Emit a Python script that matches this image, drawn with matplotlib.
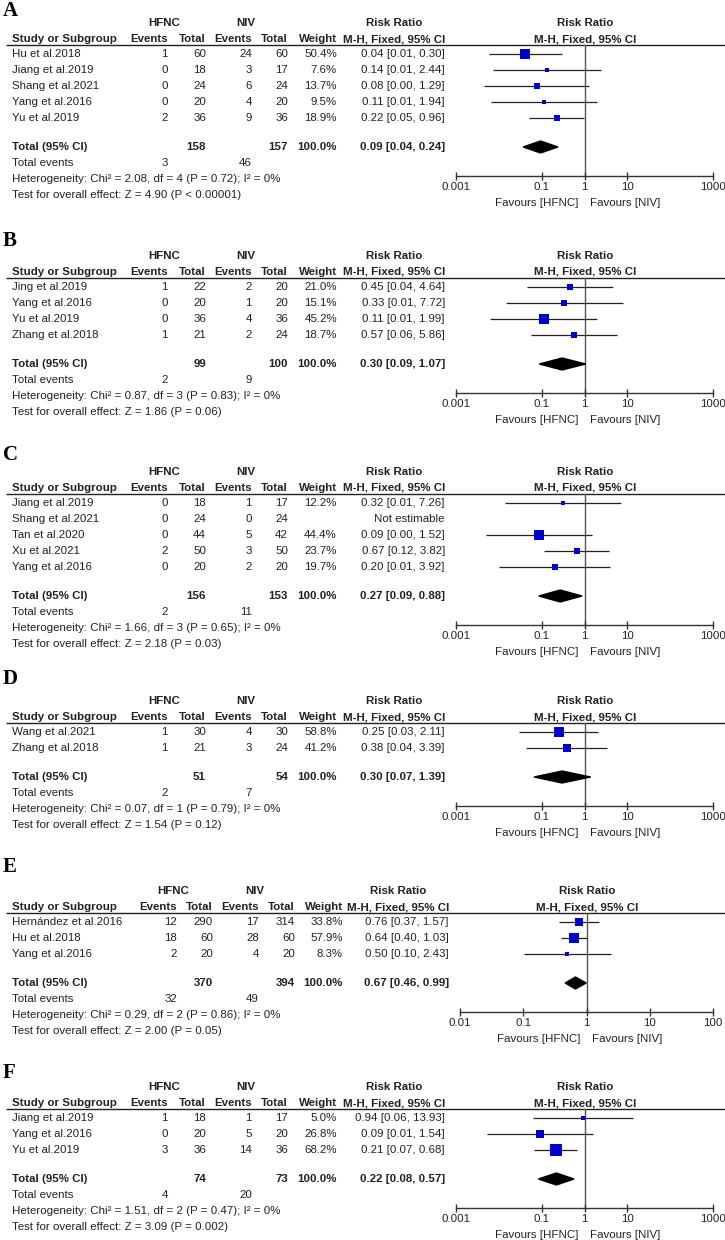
import matplotlib
matplotlib.use("Agg")
import matplotlib.pyplot as plt
import numpy as np

plt.rcParams['font.family'] = ['Liberation Sans', 'DejaVu Sans']

# ---------------- data ----------------
A_study = ["Hu et al.2018", "Jiang et al.2019", "Shang et al.2021", "Yang et al.2016", "Yu et al.2019"]
A_hfnc_ev = [1, 0, 0, 0, 2]
A_hfnc_n = [60, 18, 24, 20, 36]
A_niv_ev = [24, 3, 6, 4, 9]
A_niv_n = [60, 17, 24, 20, 36]
A_weight = [50.4, 7.6, 13.7, 9.5, 18.9]
A_rr = [0.0417, 0.1353, 0.0769, 0.1111, 0.2222]
A_lo = [0.0058, 0.0075, 0.0046, 0.0064, 0.0516]
A_hi = [0.298, 2.44, 1.294, 1.937, 0.958]
A_total = [158, 157, 3, 46, 0.094, 0.037, 0.24]
A_het = "Heterogeneity: Chi\u00b2 = 2.08, df = 4 (P = 0.72); I\u00b2 = 0%"
A_test = "Test for overall effect: Z = 4.90 (P < 0.00001)"

B_study = ["Jing et al.2019", "Yang et al.2016", "Yu et al.2019", "Zhang et al.2018"]
B_hfnc_ev = [1, 0, 0, 1]
B_hfnc_n = [22, 20, 36, 21]
B_niv_ev = [2, 1, 4, 2]
B_niv_n = [20, 20, 36, 24]
B_weight = [21.0, 15.1, 45.2, 18.7]
B_rr = [0.4545, 0.3333, 0.1111, 0.5714]
B_lo = [0.0445, 0.0144, 0.0062, 0.0557]
B_hi = [4.64, 7.72, 1.99, 5.86]
B_total = [99, 100, 2, 9, 0.30, 0.088, 1.07]
B_het = "Heterogeneity: Chi\u00b2 = 0.87, df = 3 (P = 0.83); I\u00b2 = 0%"
B_test = "Test for overall effect: Z = 1.86 (P = 0.06)"

C_study = ["Jiang et al.2019", "Shang et al.2021", "Tan et al.2020", "Xu et al.2021", "Yang et al.2016"]
C_hfnc_ev = [0, 0, 0, 2, 0]
C_hfnc_n = [18, 24, 44, 50, 20]
C_niv_ev = [1, 0, 5, 3, 2]
C_niv_n = [17, 24, 42, 50, 20]
C_weight = [12.2, None, 44.4, 23.7, 19.7]
C_rr = [0.3158, None, 0.0869, 0.6667, 0.2]
C_lo = [0.0137, None, 0.0049, 0.1163, 0.0102]
C_hi = [7.26, None, 1.524, 3.82, 3.92]
C_total = [156, 153, 2, 11, 0.27, 0.086, 0.88]
C_het = "Heterogeneity: Chi\u00b2 = 1.66, df = 3 (P = 0.65); I\u00b2 = 0%"
C_test = "Test for overall effect: Z = 2.18 (P = 0.03)"

D_study = ["Wang et al.2021", "Zhang et al.2018"]
D_hfnc_ev = [1, 1]
D_hfnc_n = [30, 21]
D_niv_ev = [4, 3]
D_niv_n = [30, 24]
D_weight = [58.8, 41.2]
D_rr = [0.25, 0.381]
D_lo = [0.0297, 0.0428]
D_hi = [2.11, 3.39]
D_total = [51, 54, 2, 7, 0.30, 0.066, 1.39]
D_het = "Heterogeneity: Chi\u00b2 = 0.07, df = 1 (P = 0.79); I\u00b2 = 0%"
D_test = "Test for overall effect: Z = 1.54 (P = 0.12)"

E_study = ["Hern\u00e1ndez et al.2016", "Hu et al.2018", "Yang et al.2016"]
E_hfnc_ev = [12, 18, 2]
E_hfnc_n = [290, 60, 20]
E_niv_ev = [17, 28, 4]
E_niv_n = [314, 60, 20]
E_weight = [33.8, 57.9, 8.3]
E_rr = [0.7643, 0.6429, 0.5]
E_lo = [0.3715, 0.401, 0.103]
E_hi = [1.5726, 1.0306, 2.43]
E_total = [370, 394, 32, 49, 0.67, 0.46, 0.99]
E_het = "Heterogeneity: Chi\u00b2 = 0.29, df = 2 (P = 0.86); I\u00b2 = 0%"
E_test = "Test for overall effect: Z = 2.00 (P = 0.05)"

F_study = ["Jiang et al.2019", "Yang et al.2016", "Yu et al.2019"]
F_hfnc_ev = [1, 0, 3]
F_hfnc_n = [18, 20, 36]
F_niv_ev = [1, 5, 14]
F_niv_n = [17, 20, 36]
F_weight = [5.0, 26.8, 68.2]
F_rr = [0.9444, 0.0909, 0.2143]
F_lo = [0.064, 0.00536, 0.0673]
F_hi = [13.93, 1.543, 0.682]
F_total = [74, 73, 4, 20, 0.22, 0.084, 0.57]
F_het = "Heterogeneity: Chi\u00b2 = 1.51, df = 2 (P = 0.47); I\u00b2 = 0%"
F_test = "Test for overall effect: Z = 3.09 (P = 0.002)"

ticks_wide = [0.001, 0.1, 1, 10, 1000]
ticklabels_wide = ["0.001", "0.1", "1", "10", "1000"]
ticks_narrow = [0.01, 0.1, 1, 10, 100]
ticklabels_narrow = ["0.01", "0.1", "1", "10", "100"]

# ---------------- layout ----------------
W, H = 725, 1240
FS = 8.25
TXT = '#222222'
SQ = '#0000CC'

colsAD = dict(study=12, ev1=168, n1=206, ev2=252, n2=288, w=337, ci=445,
              hfnc=164, niv=246, rrc=394, fx0=456, fx1=713, rrp=585)
colsE = dict(study=12, ev1=177, n1=213, ev2=259, n2=295, w=343, ci=449,
             hfnc=173, niv=255, rrc=398, fx0=460, fx1=713, rrp=587)

panels = [
    ("A", 11, 23, colsAD, (ticks_wide, ticklabels_wide),
     A_study, A_hfnc_ev, A_hfnc_n, A_niv_ev, A_niv_n, A_weight, A_rr, A_lo, A_hi, A_total, A_het, A_test),
    ("B", 241, 256, colsAD, (ticks_wide, ticklabels_wide),
     B_study, B_hfnc_ev, B_hfnc_n, B_niv_ev, B_niv_n, B_weight, B_rr, B_lo, B_hi, B_total, B_het, B_test),
    ("C", 455, 472, colsAD, (ticks_wide, ticklabels_wide),
     C_study, C_hfnc_ev, C_hfnc_n, C_niv_ev, C_niv_n, C_weight, C_rr, C_lo, C_hi, C_total, C_het, C_test),
    ("D", 679, 701, colsAD, (ticks_wide, ticklabels_wide),
     D_study, D_hfnc_ev, D_hfnc_n, D_niv_ev, D_niv_n, D_weight, D_rr, D_lo, D_hi, D_total, D_het, D_test),
    ("E", 867, 891, colsE, (ticks_narrow, ticklabels_narrow),
     E_study, E_hfnc_ev, E_hfnc_n, E_niv_ev, E_niv_n, E_weight, E_rr, E_lo, E_hi, E_total, E_het, E_test),
    ("F", 1073, 1087, colsAD, (ticks_wide, ticklabels_wide),
     F_study, F_hfnc_ev, F_hfnc_n, F_niv_ev, F_niv_n, F_weight, F_rr, F_lo, F_hi, F_total, F_het, F_test),
]

fig = plt.figure(figsize=(W / 100, H / 100), dpi=100)
tax = fig.add_axes([0, 0, 1, 1])
tax.set_xlim(0, W)
tax.set_ylim(H, 0)
tax.axis('off')


def t(x, y, s, ha='left', bold=False, **kw):
    tax.text(x, y, s, ha=ha, va='center', fontsize=FS, color=TXT,
             fontweight='bold' if bold else 'normal', **kw)


ROW = 16
for (lab, laby, h, c, (tks, tkl), study, e1, n1, e2, n2, wt, rr, lo, hi, tot, het, test) in panels:
    tax.text(3, laby, lab, ha='left', va='center', fontsize=15, fontweight='bold',
             family=['Liberation Serif', 'DejaVu Serif'], color='black')
    # header rows
    t(c['hfnc'], h, "HFNC", ha='center', bold=True)
    t(c['niv'], h, "NIV", ha='center', bold=True)
    t(c['rrc'], h, "Risk Ratio", ha='center', bold=True)
    t(c['rrp'], h, "Risk Ratio", ha='center', bold=True)
    h2 = h + 16
    t(c['study'], h2, "Study or Subgroup", bold=True)
    t(c['ev1'], h2, "Events", ha='right', bold=True)
    t(c['n1'], h2, "Total", ha='right', bold=True)
    t(c['ev2'], h2, "Events", ha='right', bold=True)
    t(c['n2'], h2, "Total", ha='right', bold=True)
    t(c['w'], h2, "Weight", ha='right', bold=True)
    t(c['rrc'], h2, "M-H, Fixed, 95% CI", ha='center', bold=True)
    t(c['rrp'], h2, "M-H, Fixed, 95% CI", ha='center', bold=True)
    ul = h + 21.5
    tax.plot([6, W], [ul, ul], color='#222222', lw=1.0, solid_capstyle='butt')

    ys = [h + 31 + i * ROW for i in range(len(study))]
    for i, y in enumerate(ys):
        t(c['study'], y, study[i])
        t(c['ev1'], y, str(e1[i]), ha='right')
        t(c['n1'], y, str(n1[i]), ha='right')
        t(c['ev2'], y, str(e2[i]), ha='right')
        t(c['n2'], y, str(n2[i]), ha='right')
        if wt[i] is not None:
            t(c['w'], y, f"{wt[i]:.1f}%", ha='right')
            t(c['ci'], y, f"{rr[i]:.2f} [{lo[i]:.2f}, {hi[i]:.2f}]", ha='right')
        else:
            t(c['ci'], y, "Not estimable", ha='right')
    last = ys[-1]
    ytot = last + 29
    t(c['study'], ytot, "Total (95% CI)", bold=True)
    t(c['n1'], ytot, str(tot[0]), ha='right', bold=True)
    t(c['n2'], ytot, str(tot[1]), ha='right', bold=True)
    t(c['w'], ytot, "100.0%", ha='right', bold=True)
    t(c['ci'], ytot, f"{tot[4]:.2f} [{tot[5]:.2f}, {tot[6]:.2f}]", ha='right', bold=True)
    t(c['study'], ytot + 16, "Total events")
    t(c['ev1'], ytot + 16, str(tot[2]), ha='right')
    t(c['ev2'], ytot + 16, str(tot[3]), ha='right')
    t(c['study'], ytot + 32, het)
    t(c['study'], ytot + 48, test)

    # forest axes
    yax = last + 58
    fax = fig.add_axes([c['fx0'] / W, 1 - yax / H, (c['fx1'] - c['fx0']) / W, (yax - ul) / H])
    fax.patch.set_alpha(0)
    fax.set_xscale('log')
    fax.set_xlim(tks[0], tks[-1])
    fax.set_ylim(yax, ul)
    for s in ['top', 'left', 'right']:
        fax.spines[s].set_visible(False)
    fax.spines['bottom'].set_color('#333333')
    fax.spines['bottom'].set_linewidth(1.0)
    fax.set_yticks([])
    fax.set_xticks(tks)
    fax.set_xticklabels(tkl)
    fax.minorticks_off()
    fax.tick_params(axis='x', direction='inout', length=6, width=1.0, pad=1.5,
                    labelsize=FS, colors='#333333', labelcolor=TXT)
    fax.axvline(1, color='#555555', lw=1.0, zorder=1)
    for i, y in enumerate(ys):
        if rr[i] is None:
            continue
        fax.hlines(y, lo[i], hi[i], color='#222222', lw=0.9, zorder=2, clip_on=False)
        fax.scatter([rr[i]], [y], s=1.0 * wt[i], marker='s', color=SQ, zorder=3,
                    linewidths=0, clip_on=False)
    dh = 6
    fax.fill([tot[5], tot[4], tot[6], tot[4]], [ytot, ytot - dh, ytot, ytot + dh],
             color='black', zorder=3, clip_on=False)
    fy = yax + 27
    fax.annotate("Favours [HFNC]", xy=(1, fy), xytext=(-4.3, 0), textcoords='offset points',
                 ha='right', va='center', fontsize=FS, color=TXT, annotation_clip=False)
    fax.annotate("Favours [NIV]", xy=(1, fy), xytext=(4.3, 0), textcoords='offset points',
                 ha='left', va='center', fontsize=FS, color=TXT, annotation_clip=False)

fig.savefig("out.png", dpi=100)
